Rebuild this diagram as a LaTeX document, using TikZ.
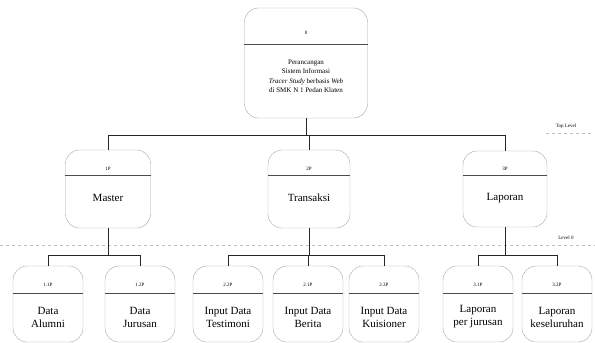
\documentclass[tikz,border=0pt]{standalone}
\usepackage{fontspec}
\setmainfont{Liberation Serif}
\usetikzlibrary{positioning}

\tikzset{
  proc/.style={draw=black!35, rounded corners=14pt, inner sep=0pt},
  num/.style={font=\fontsize{5}{6}\selectfont, inner sep=1pt},
  lbl/.style={font=\fontsize{11}{13}\selectfont, align=center, inner sep=1pt},
  divider/.style={draw=black!70, thin},
  link/.style={draw=black!85, thin},
  level/.style={draw=black!25, dashed},
}

\begin{document}
\begin{tikzpicture}[x=1pt, y=-1pt]
    \useasboundingbox (0,0) rectangle (595,343);

    % top level
    \node [proc, minimum width=123pt, minimum height=110pt] (p0) at (306,63) {};
    \node [num] (n0) at (306,33) {0};
    \draw [divider] (p0.west |- 0,44) -- (p0.east |- 0,44);
    \node [lbl, font=\fontsize{7}{9.5}\selectfont] (t0) at (306,76)
        {Perancangan\\Sistem Informasi\\\textit{Tracer Study} berbasis \textit{Web}\\di SMK N 1 Pedan Klaten};

    % level 0
    \node [proc, minimum width=85pt, minimum height=78pt] (master) at (108,189) {};
    \node [proc, minimum width=82pt, minimum height=78pt] (transaksi) at (309,189) {};
    \node [proc, minimum width=84pt, minimum height=76pt] (laporan) at (505,189) {};

    \foreach \p/\n/\t in {master/1P/Master, transaksi/2P/Transaksi, laporan/3P/Laporan}
    {
        \node [num] at (\p.center |- 0,169) {\n};
        \draw [divider] (\p.west |- 0,175) -- (\p.east |- 0,175);
        \node [lbl] at (\p.center |- 0,198) {\t};
    }

    % level 1
    \foreach \p/\x/\n/\t in {alumni/48/1.1P/{Data\\Alumni},
                             jurusan/140/1.2P/{Data\\Jurusan},
                             testimoni/228/2.2P/{Input Data\\Testimoni},
                             berita/308/2.1P/{Input Data\\Berita},
                             kuisioner/384/2.3P/{Input Data\\Kuisioner},
                             lapjur/478/3.1P/{Laporan\\per jurusan},
                             lapall/557/3.2P/{Laporan\\keseluruhan}}
    {
        \node [proc, minimum width=70pt, minimum height=76pt] (\p) at (\x,304) {};
        \node [num] at (\x,285) {\n};
        \draw [divider] (\p.west |- 0,293) -- (\p.east |- 0,293);
        \node [lbl] at (\x,317) {\t};
    }

    % level lines
    \node [num] (toplvl) at (566,126) {Top Level};
    \draw [level] (546,133) -- (592,133);
    \node [num] (lvl0) at (566,238) {Level 0};
    \draw [level] (0,245) -- (595,245);

    % connectors
    \draw [link] (p0.south) -- ++(0,17) coordinate (bus0);
    \draw [link] (bus0) -| (master.north);
    \draw [link] (bus0) -| (transaksi.north);
    \draw [link] (bus0) -| (laporan.north);

    \draw [link] (master.south) -- (master.south |- 0,255) coordinate (bus1);
    \draw [link] (bus1) -| (alumni.north);
    \draw [link] (bus1) -| (jurusan.north);

    \draw [link] (transaksi.south) -- (transaksi.south |- 0,255) coordinate (bus2);
    \draw [link] (bus2) -| (testimoni.north);
    \draw [link] (bus2) -| (berita.north);
    \draw [link] (bus2) -| (kuisioner.north);

    \draw [link] (laporan.south) -- (laporan.south |- 0,255) coordinate (bus3);
    \draw [link] (bus3) -| (lapjur.north);
    \draw [link] (bus3) -| (lapall.north);
\end{tikzpicture}
\end{document}
